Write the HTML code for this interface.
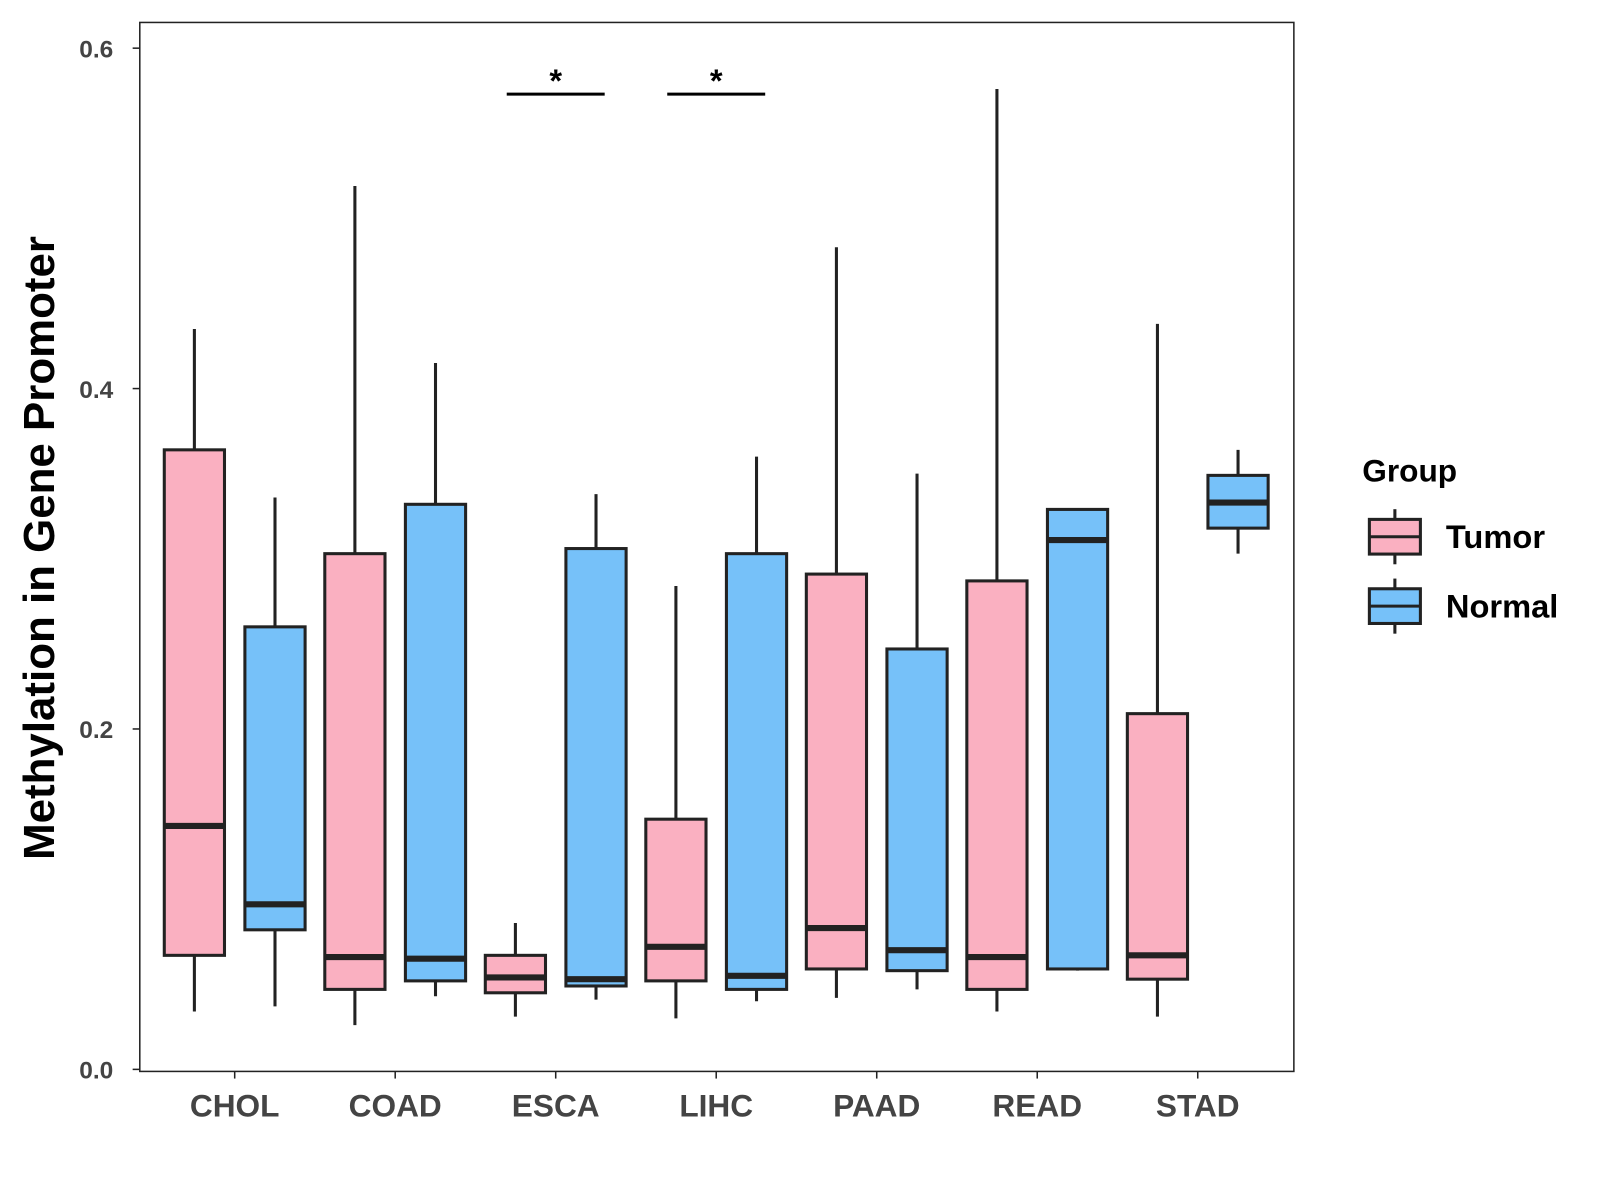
<!DOCTYPE html>
<html><head><meta charset="utf-8"><style>
body{margin:0;background:#fff}
svg{display:block;font-family:"Liberation Sans",Arial,sans-serif}
</style></head><body>
<svg id="chart" width="1600" height="1200" viewBox="0 0 1600 1200"><g id="root" transform="scale(1.0204)"></g></svg>
<script>
const categories=["CHOL","COAD","ESCA","LIHC","PAAD","READ","STAD"];
const groups=["Tumor","Normal"];
const tumorLow=[0.034,0.026,0.031,0.030,0.042,0.034,0.031];
const tumorQ1=[0.067,0.047,0.045,0.052,0.059,0.047,0.053];
const tumorMed=[0.143,0.066,0.054,0.072,0.083,0.066,0.067];
const tumorQ3=[0.364,0.303,0.067,0.147,0.291,0.287,0.209];
const tumorHigh=[0.435,0.519,0.086,0.284,0.483,0.576,0.438];
const normalLow=[0.037,0.043,0.041,0.040,0.047,0.058,0.303];
const normalQ1=[0.082,0.052,0.049,0.047,0.058,0.059,0.318];
const normalMed=[0.097,0.065,0.053,0.055,0.070,0.311,0.333];
const normalQ3=[0.260,0.332,0.306,0.303,0.247,0.329,0.349];
const normalHigh=[0.336,0.415,0.338,0.360,0.350,0.329,0.364];
const yTicks=[0.0,0.2,0.4,0.6];
const yTickLabels=["0.0","0.2","0.4","0.6"];
const sigCategories=["ESCA","LIHC"];
const sigLevel=0.573;

const NS="http://www.w3.org/2000/svg";
const svg=document.getElementById("root");
const P={l:137,r:1268,t:22,b:1050};
const y=v=>1048-v*1668;
const x=i=>230+i*157.3;
const BW=59, OFF=39.5;
const colors=["#FAB0C1","#76C1F9"];
function el(tag,attrs,parent){const e=document.createElementNS(NS,tag);for(const k in attrs)e.setAttribute(k,attrs[k]);(parent||svg).appendChild(e);return e;}

const panel=el("rect",{x:P.l,y:P.t,width:P.r-P.l,height:P.b-P.t,fill:"#fff",stroke:"#222","stroke-width":1.5});



yTicks.forEach((t,i)=>{
  const tk=el("line",{x1:P.l-7,x2:P.l,y1:y(t),y2:y(t),stroke:"#222","stroke-width":1.5});
  
  
  const tl=el("text",{x:P.l-26,y:y(t)+9,"text-anchor":"end","font-size":24,"font-weight":"bold",fill:"#444"});
  tl.textContent=yTickLabels[i];
  
  
});
categories.forEach((c,i)=>{
  const tk=el("line",{x1:x(i),x2:x(i),y1:P.b,y2:P.b+7,stroke:"#222","stroke-width":1.5});
  
  
  const tl=el("text",{x:x(i),y:1094,"text-anchor":"middle","font-size":31,"font-weight":"bold",fill:"#444"});
  tl.textContent=c;
  
  
});
const yt=el("text",{x:0,y:0,transform:"translate(53,537) rotate(-90)","text-anchor":"middle","font-size":43,"font-weight":"bold",fill:"#000"});
yt.textContent="Methylation in Gene Promoter";



const sets=[[tumorLow,tumorQ1,tumorMed,tumorQ3,tumorHigh],[normalLow,normalQ1,normalMed,normalQ3,normalHigh]];
categories.forEach((c,i)=>{
  sets.forEach((s,g)=>{
    const cx=x(i)+(g===0?-OFF:OFF);
    const lo=s[0][i],q1=s[1][i],md=s[2][i],q3=s[3][i],hi=s[4][i];
    const grp=el("g",{});
    
    
    el("line",{x1:cx,x2:cx,y1:y(hi),y2:y(lo),stroke:"#222","stroke-width":3},grp);
    el("rect",{x:cx-BW/2,y:y(q3),width:BW,height:y(q1)-y(q3),fill:colors[g],stroke:"#222","stroke-width":3},grp);
    el("line",{x1:cx-BW/2,x2:cx+BW/2,y1:y(md),y2:y(md),stroke:"#222","stroke-width":6},grp);
  });
});
sigCategories.forEach(c=>{
  const i=categories.indexOf(c);
  const l=el("line",{x1:x(i)-48,x2:x(i)+48,y1:y(sigLevel),y2:y(sigLevel),stroke:"#000","stroke-width":3});
  
  
  const t=el("text",{x:x(i),y:y(sigLevel)-2,"text-anchor":"middle","font-size":32,"font-weight":"bold",fill:"#000"});
  t.textContent="*";
  
  
});
const lt=el("text",{x:1335,y:472,"font-size":31,"font-weight":"bold",fill:"#000"});
lt.textContent="Group";


groups.forEach((gname,g)=>{
  const cy=526+g*68;
  const lg=el("g",{});
  
  
  el("line",{x1:1367,x2:1367,y1:cy-27,y2:cy+27,stroke:"#222","stroke-width":3},lg);
  el("rect",{x:1342,y:cy-17,width:50,height:34,fill:colors[g],stroke:"#222","stroke-width":3},lg);
  el("line",{x1:1342,x2:1392,y1:cy,y2:cy,stroke:"#222","stroke-width":3},lg);
  const t=el("text",{x:1417,y:cy+11,"font-size":32,"font-weight":"bold",fill:"#000"},lg);
  t.textContent=gname;
});
</script>
</body></html>
